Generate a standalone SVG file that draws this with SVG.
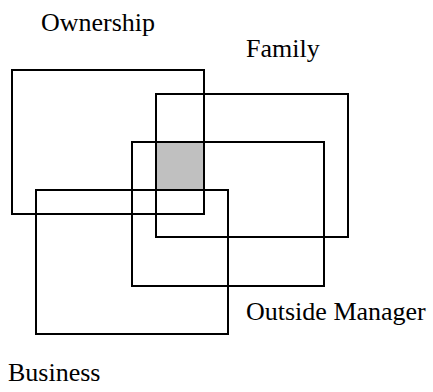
<svg xmlns="http://www.w3.org/2000/svg" width="433" height="392" viewBox="0 0 433 392">
<style>
.box{fill:none;stroke:#000;stroke-width:2}
.lbl{font-family:'Liberation Serif','DejaVu Serif',serif;font-size:26px;fill:#000}
</style>
<rect width="433" height="392" fill="#fff"/>
<g id="overlap"><rect x="156" y="142" width="48" height="48" fill="#c0c0c0"/></g>
<g id="ownership"><rect class="box" x="12" y="70" width="192" height="144"/><text class="lbl" x="41" y="31">Ownership</text></g>
<g id="family"><rect class="box" x="156" y="94" width="192" height="143"/><text class="lbl" x="246" y="57">Family</text></g>
<g id="outside-manager"><rect class="box" x="132" y="142" width="192" height="144"/><text class="lbl" x="246" y="320">Outside Manager</text></g>
<g id="business"><rect class="box" x="36" y="190" width="192" height="144"/><text class="lbl" x="8" y="381">Business</text></g>
<g id="connectors"></g>
</svg>
